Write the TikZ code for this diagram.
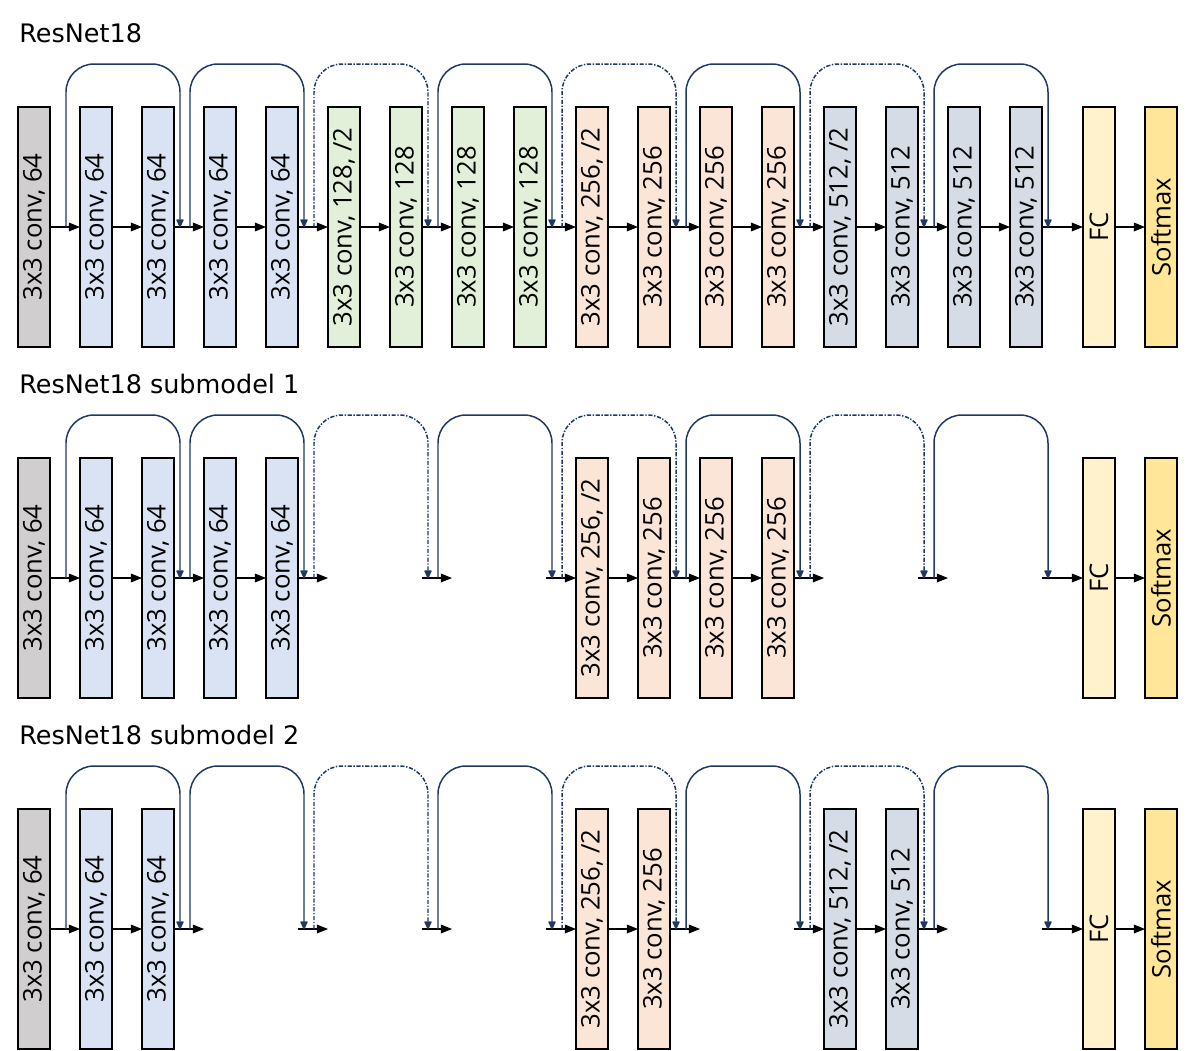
\documentclass[tikz,border=0pt]{standalone}
\usepackage{fontspec}
\setmainfont{Open Sans}
\newfontfamily\titlefont{DejaVu Sans}
\usetikzlibrary{arrows.meta}

\definecolor{stemgray}{HTML}{D0CECE}
\definecolor{blue64}{HTML}{DAE3F3}
\definecolor{green128}{HTML}{E2F0D9}
\definecolor{peach256}{HTML}{FBE5D6}
\definecolor{slate512}{HTML}{D6DCE5}
\definecolor{fcyellow}{HTML}{FFF2CC}
\definecolor{softyellow}{HTML}{FFE699}
\definecolor{skipnavy}{HTML}{1F3864}

\begin{document}
\begin{tikzpicture}

\newlength{\xdist}
\setlength{\xdist}{1.24cm}
\newlength{\ydist}
\setlength{\ydist}{7.02cm}

\useasboundingbox (0,0) rectangle (23.86,-21);

% styles
\pgfkeys{/layer/.style={draw, line width=0.7pt, rotate=90, inner sep=0, minimum width=4.8cm, minimum height=0.64cm, node font=\fontsize{14.6}{17}\selectfont}} % base style for layers
\pgfkeys{/stem/.style={/layer, fill=stemgray}}
\pgfkeys{/l64/.style={/layer, fill=blue64}}
\pgfkeys{/l128/.style={/layer, fill=green128}}
\pgfkeys{/l256/.style={/layer, fill=peach256}}
\pgfkeys{/l512/.style={/layer, fill=slate512}}
\pgfkeys{/fc/.style={/layer, fill=fcyellow}}
\pgfkeys{/soft/.style={/layer, fill=softyellow}}
\pgfkeys{/title/.style={anchor=base west, inner sep=0, node font=\titlefont\fontsize{14.5}{17}\selectfont}}
\pgfkeys{/flow/.style={line width=0.6pt, -{Triangle[length=6.4pt, width=5pt]}}} % main data flow
\pgfkeys{/skip/.style={draw=skipnavy, line width=0.85pt, rounded corners=0.56cm, -{Triangle[length=5pt, width=4.4pt, round]}, skipnavy}} % shortcut
\pgfkeys{/down/.style={/skip, dash pattern=on 2.4pt off 0.9pt on 0.8pt off 0.9pt}} % downsampling shortcut

% points on the main line of every row (18 = FC, 19 = Softmax)
\foreach \r in {0,1,2} {
\foreach \i in {1,...,19} {
\pgfmathsetmacro{\xl}{(\i<18 ? 0.36 : 0.58) + 1.24*(\i-1)}
\coordinate (in\r-\i) at (\xl, -4.54-7.02*\r);
\coordinate (c\r-\i) at (\xl+0.32, -4.54-7.02*\r);
\coordinate (out\r-\i) at (\xl+0.64, -4.54-7.02*\r);
}
% taps and joins of the shortcuts
\foreach \k in {1,...,8} {
\coordinate (tap\r-\k) at (1.32+2.48*\k-2.48, -4.54-7.02*\r);
\coordinate (join\r-\k) at (1.12+2.48*\k, -4.54-7.02*\r);
}
}

% titles
\node[/title] (t0) at (0.38,-0.84) {ResNet18};
\node[/title] (t1) at (0.38,-7.86) {ResNet18 submodel 1};
\node[/title] (t2) at (0.38,-14.88) {ResNet18 submodel 2};

% ResNet18
\node[/stem] (b0-1) at (c0-1) {3x3 conv, 64};
\foreach \i in {2,...,5} {
\node[/l64] (b0-\i) at (c0-\i) {3x3 conv, 64};
}
\node[/l128] (b0-6) at (c0-6) {3x3 conv, 128, /2};
\foreach \i in {7,8,9} {
\node[/l128] (b0-\i) at (c0-\i) {3x3 conv, 128};
}
\node[/l256] (b0-10) at (c0-10) {3x3 conv, 256, /2};
\foreach \i in {11,12,13} {
\node[/l256] (b0-\i) at (c0-\i) {3x3 conv, 256};
}
\node[/l512] (b0-14) at (c0-14) {3x3 conv, 512, /2};
\foreach \i in {15,16,17} {
\node[/l512] (b0-\i) at (c0-\i) {3x3 conv, 512};
}
\node[/fc] (b0-18) at (c0-18) {FC};
\node[/soft] (b0-19) at (c0-19) {Softmax};
\foreach \i [evaluate=\i as \j using int(\i+1)] in {1,...,18} {
\draw[/flow] (out0-\i) -- (in0-\j);
}

% submodel 1
\node[/stem] (b1-1) at (c1-1) {3x3 conv, 64};
\foreach \i in {2,...,5} {
\node[/l64] (b1-\i) at (c1-\i) {3x3 conv, 64};
}
\node[/l256] (b1-10) at (c1-10) {3x3 conv, 256, /2};
\foreach \i in {11,12,13} {
\node[/l256] (b1-\i) at (c1-\i) {3x3 conv, 256};
}
\node[/fc] (b1-18) at (c1-18) {FC};
\node[/soft] (b1-19) at (c1-19) {Softmax};
\foreach \i [evaluate=\i as \j using int(\i+1)] in {1,2,3,4,5,7,9,10,11,12,13,15,17,18} {
\draw[/flow] (out1-\i) -- (in1-\j);
}

% submodel 2
\node[/stem] (b2-1) at (c2-1) {3x3 conv, 64};
\foreach \i in {2,3} {
\node[/l64] (b2-\i) at (c2-\i) {3x3 conv, 64};
}
\node[/l256] (b2-10) at (c2-10) {3x3 conv, 256, /2};
\node[/l256] (b2-11) at (c2-11) {3x3 conv, 256};
\node[/l512] (b2-14) at (c2-14) {3x3 conv, 512, /2};
\node[/l512] (b2-15) at (c2-15) {3x3 conv, 512};
\node[/fc] (b2-18) at (c2-18) {FC};
\node[/soft] (b2-19) at (c2-19) {Softmax};
\foreach \i [evaluate=\i as \j using int(\i+1)] in {1,2,3,5,7,9,10,11,13,14,15,17,18} {
\draw[/flow] (out2-\i) -- (in2-\j);
}

% shortcuts, the same in every row
\foreach \r in {0,1,2} {
\foreach \k in {1,2,4,6,8} {
\draw[/skip] (tap\r-\k) -- ++(0,3.26) -| (join\r-\k);
}
\foreach \k in {3,5,7} {
\draw[/down] (tap\r-\k) -- ++(0,3.26) -| (join\r-\k);
}
}

\end{tikzpicture}
\end{document}
